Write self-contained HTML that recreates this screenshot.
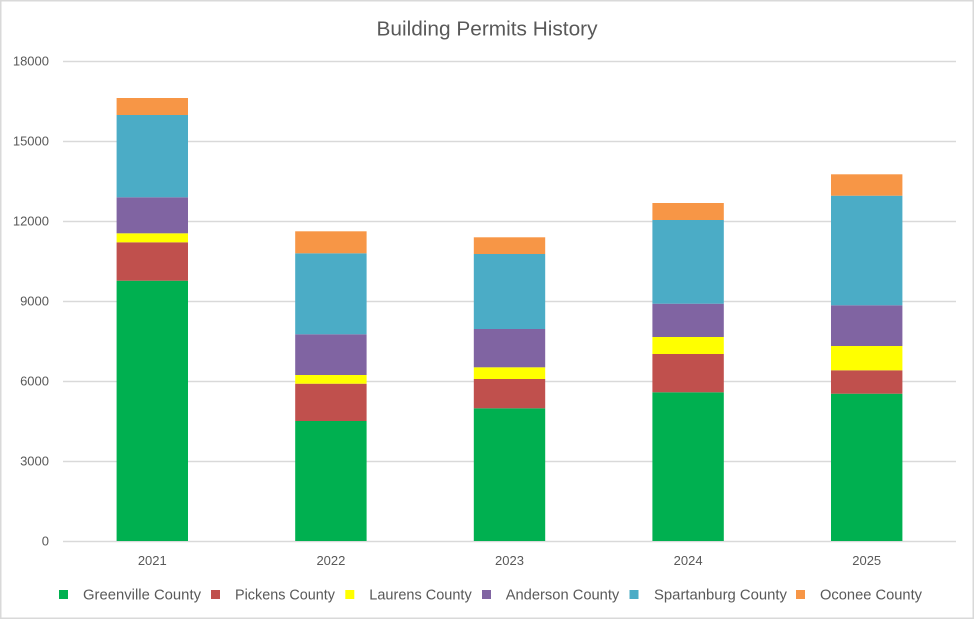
<!DOCTYPE html>
<html><head><meta charset="utf-8"><style>
html,body{margin:0;padding:0;background:#fff;}
svg{display:block;}
text{font-family:"Liberation Sans",Arial,sans-serif;fill:#595959;}
</style></head><body>
<svg width="975" height="620" viewBox="0 0 975 620" xmlns="http://www.w3.org/2000/svg">
<rect x="0" y="0" width="975" height="620" fill="#fff"/>
<rect x="0.75" y="0.75" width="972.5" height="617.5" fill="none" stroke="#d9d9d9" stroke-width="1.5"/>
<text x="487" y="35.3" font-size="20.5" text-anchor="middle" textLength="221" lengthAdjust="spacingAndGlyphs">Building Permits History</text>
<g stroke="#d9d9d9" stroke-width="1.5">
<line x1="63" y1="61.5" x2="956" y2="61.5"/>
<line x1="63" y1="141.5" x2="956" y2="141.5"/>
<line x1="63" y1="221.5" x2="956" y2="221.5"/>
<line x1="63" y1="301.5" x2="956" y2="301.5"/>
<line x1="63" y1="381.5" x2="956" y2="381.5"/>
<line x1="63" y1="461.5" x2="956" y2="461.5"/>
<line x1="63" y1="541.5" x2="956" y2="541.5"/>
</g>
<g font-size="13" text-anchor="end">
<text x="49" y="65.7">18000</text>
<text x="49" y="145.7">15000</text>
<text x="49" y="225.7">12000</text>
<text x="49" y="305.7">9000</text>
<text x="49" y="385.7">6000</text>
<text x="49" y="465.7">3000</text>
<text x="49" y="545.7">0</text>
</g>
<g font-size="13" text-anchor="middle">
<text x="152.3" y="565">2021</text>
<text x="330.9" y="565">2022</text>
<text x="509.5" y="565">2023</text>
<text x="688.1" y="565">2024</text>
<text x="866.7" y="565">2025</text>
</g>
<!-- 2021 -->
<g>
<rect x="116.6" y="280.7" width="71.4" height="260.3" fill="#00B050"/>
<rect x="116.6" y="242.3" width="71.4" height="38.4" fill="#C0504D"/>
<rect x="116.6" y="233.3" width="71.4" height="9" fill="#FFFF00"/>
<rect x="116.6" y="197.3" width="71.4" height="36" fill="#8064A2"/>
<rect x="116.6" y="115" width="71.4" height="82.3" fill="#4BACC6"/>
<rect x="116.6" y="98" width="71.4" height="17" fill="#F79646"/>
</g>
<!-- 2022 -->
<g>
<rect x="295.2" y="421" width="71.4" height="120" fill="#00B050"/>
<rect x="295.2" y="383.7" width="71.4" height="37.3" fill="#C0504D"/>
<rect x="295.2" y="375" width="71.4" height="8.7" fill="#FFFF00"/>
<rect x="295.2" y="334.3" width="71.4" height="40.7" fill="#8064A2"/>
<rect x="295.2" y="253.3" width="71.4" height="81" fill="#4BACC6"/>
<rect x="295.2" y="231.3" width="71.4" height="22" fill="#F79646"/>
</g>
<!-- 2023 -->
<g>
<rect x="473.8" y="408.3" width="71.4" height="132.7" fill="#00B050"/>
<rect x="473.8" y="379" width="71.4" height="29.3" fill="#C0504D"/>
<rect x="473.8" y="367.3" width="71.4" height="11.7" fill="#FFFF00"/>
<rect x="473.8" y="329" width="71.4" height="38.3" fill="#8064A2"/>
<rect x="473.8" y="254" width="71.4" height="75" fill="#4BACC6"/>
<rect x="473.8" y="237.3" width="71.4" height="16.7" fill="#F79646"/>
</g>
<!-- 2024 -->
<g>
<rect x="652.4" y="392.3" width="71.4" height="148.7" fill="#00B050"/>
<rect x="652.4" y="354" width="71.4" height="38.3" fill="#C0504D"/>
<rect x="652.4" y="337" width="71.4" height="17" fill="#FFFF00"/>
<rect x="652.4" y="303.7" width="71.4" height="33.3" fill="#8064A2"/>
<rect x="652.4" y="220" width="71.4" height="83.7" fill="#4BACC6"/>
<rect x="652.4" y="203" width="71.4" height="17" fill="#F79646"/>
</g>
<!-- 2025 -->
<g>
<rect x="831" y="393.7" width="71.4" height="147.3" fill="#00B050"/>
<rect x="831" y="370.3" width="71.4" height="23.4" fill="#C0504D"/>
<rect x="831" y="346" width="71.4" height="24.3" fill="#FFFF00"/>
<rect x="831" y="305.3" width="71.4" height="40.7" fill="#8064A2"/>
<rect x="831" y="195.7" width="71.4" height="109.6" fill="#4BACC6"/>
<rect x="831" y="174.3" width="71.4" height="21.4" fill="#F79646"/>
</g>
<!-- legend -->
<g>
<rect x="59" y="590" width="9" height="9" fill="#00B050"/>
<rect x="211" y="590" width="9" height="9" fill="#C0504D"/>
<rect x="345.3" y="590" width="9" height="9" fill="#FFFF00"/>
<rect x="482" y="590" width="9" height="9" fill="#8064A2"/>
<rect x="629.5" y="590" width="9" height="9" fill="#4BACC6"/>
<rect x="796" y="590" width="9" height="9" fill="#F79646"/>
</g>
<g font-size="15">
<text x="83" y="599.5" textLength="118" lengthAdjust="spacingAndGlyphs">Greenville County</text>
<text x="235" y="599.5" textLength="100" lengthAdjust="spacingAndGlyphs">Pickens County</text>
<text x="369.3" y="599.5" textLength="102.4" lengthAdjust="spacingAndGlyphs">Laurens County</text>
<text x="505.7" y="599.5" textLength="113.6" lengthAdjust="spacingAndGlyphs">Anderson County</text>
<text x="654" y="599.5" textLength="133" lengthAdjust="spacingAndGlyphs">Spartanburg County</text>
<text x="820" y="599.5" textLength="102" lengthAdjust="spacingAndGlyphs">Oconee County</text>
</g>
</svg>
</body></html>
